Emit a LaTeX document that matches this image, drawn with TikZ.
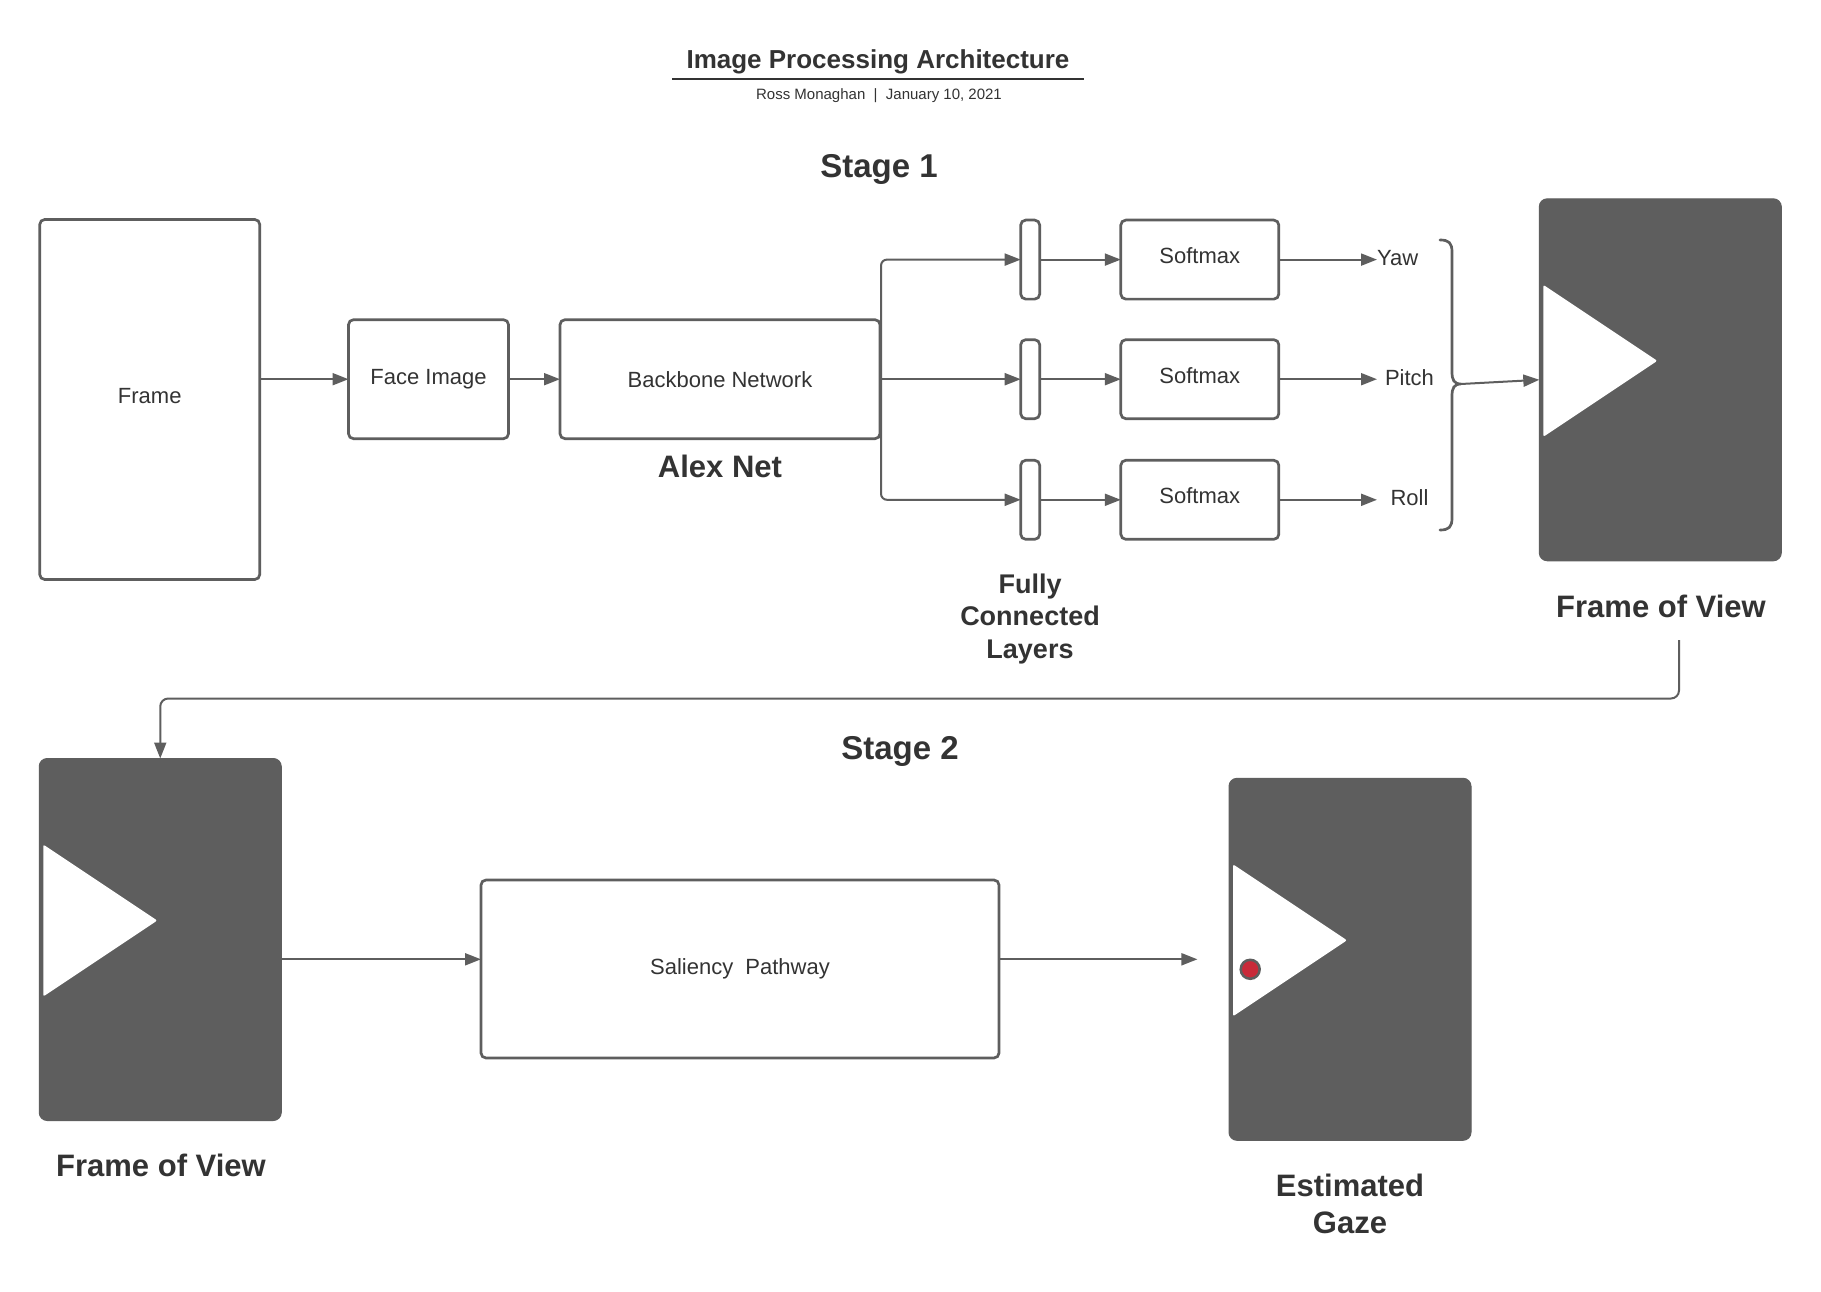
\documentclass[tikz,border=0pt]{standalone}
\usepackage{fontspec}
\setmainfont{Liberation Sans}
\usetikzlibrary{arrows.meta,calc}

\definecolor{linegray}{HTML}{5E5E5E}
\definecolor{inkgray}{HTML}{333333}
\definecolor{gazered}{HTML}{C92A39}

\tikzset{
  box/.style={draw=linegray, line width=2.7pt, rounded corners=5pt, fill=white,
    inner sep=0pt, outer sep=0pt, text=inkgray,
    font=\fontsize{22pt}{26pt}\selectfont},
  fcbar/.style={box, minimum width=19pt, minimum height=79pt, rounded corners=5pt},
  smbox/.style={box, minimum width=158pt, minimum height=79pt, text depth=8pt},
  darkframe/.style={fill=linegray, draw=linegray, line width=1pt, rounded corners=8pt,
    minimum width=242pt, minimum height=362pt, inner sep=0pt, outer sep=0pt},
  conn/.style={draw=linegray, line width=2pt, -{Triangle[length=16pt,width=12pt]}},
  heading/.style={text=inkgray, inner sep=0pt, font=\bfseries\fontsize{33pt}{40pt}\selectfont},
  caption/.style={text=inkgray, inner sep=0pt, align=center,
    font=\bfseries\fontsize{31pt}{36.6pt}\selectfont},
  outlbl/.style={text=inkgray, inner sep=0pt, outer sep=0pt,
    font=\fontsize{22pt}{26pt}\selectfont},
}

% white view cone inside a dark frame node
\newcommand{\viewcone}[1]{%
  \fill[white, rounded corners=2pt]
    ($(#1.north west)+(4,86)$) -- ($(#1.north west)+(118,162)$)
    -- ($(#1.north west)+(4,238)$) -- cycle;}

\begin{document}
\begin{tikzpicture}[x=1pt,y=-1pt]
\fill[white] (0,0) rectangle (1821,1292);
\useasboundingbox (0,0) rectangle (1821,1292);

% ---- header ----
\node[text=inkgray, inner sep=0pt, anchor=base,
      font=\bfseries\fontsize{26pt}{31pt}\selectfont] (title) at (878,69)
  {Image Processing Architecture};
\draw[draw=inkgray, line width=2pt]
  ($(title.base west)+(-14,10.5)$) -- ($(title.base east)+(14,10.5)$);
\node[text=inkgray, inner sep=0pt, anchor=base,
      font=\fontsize{15pt}{18pt}\selectfont] (byline) at (879,100)
  {Ross Monaghan\ \ |\ \ January 10, 2021};

% ---- stage 1 ----
\node[heading, anchor=base] (stage1) at (879,178) {Stage 1};

\node[box, minimum width=220pt, minimum height=360pt, text depth=8pt] (frame) at (149.75,399.5) {Frame};
\node[box, minimum width=160pt, minimum height=119pt] (face) at (428.5,379.2) {Face Image};
\node[box, minimum width=320pt, minimum height=119pt] (bb) at (720,379.2) {Backbone Network};
\node[caption, anchor=base] (alex) at (720,477) {Alex Net};

\node[fcbar] (fc1) at (1030.2,259.6) {};
\node[fcbar] (fc2) at (1030.2,379.2) {};
\node[fcbar] (fc3) at (1030.2,499.8) {};
\node[caption, font=\bfseries\fontsize{27pt}{32.2pt}\selectfont] (fclbl) at (1030,619)
  {Fully\\Connected\\Layers};

\node[smbox] (sm1) at (1199.8,259.6) {Softmax};
\node[smbox] (sm2) at (1199.8,379.2) {Softmax};
\node[smbox] (sm3) at (1199.8,499.8) {Softmax};

\node[outlbl, anchor=west] (yaw) at (1377,258) {Yaw};
\node[outlbl, anchor=west, minimum width=65pt] (pitch) at (1377,378) {Pitch};
\node[outlbl, anchor=west, minimum width=65pt] (roll) at (1377,498) {Roll};

\node[darkframe] (fov1) at (1660.3,379.8) {};
\viewcone{fov1}
\node[caption, anchor=base] (fov1lbl) at (1661,617) {Frame of View};

% connectors of stage 1
\draw[conn] (frame.east |- face.west) -- (face.west);
\draw[conn] (face.east) -- (bb.west);
\draw[conn, rounded corners=6pt] ($(bb.east)+(1,0)$) |- (fc1.west);
\draw[conn] (bb.east) -- (fc2.west);
\draw[conn, rounded corners=6pt] ($(bb.east)+(1,0)$) |- (fc3.west);
\draw[conn] (fc1.east) -- (sm1.west);
\draw[conn] (fc2.east) -- (sm2.west);
\draw[conn] (fc3.east) -- (sm3.west);
\draw[conn] (sm1.east) -- (sm1.east -| yaw.west);
\draw[conn] (sm2.east) -- (sm2.east -| pitch.west);
\draw[conn] (sm3.east) -- (sm3.east -| roll.west);

% brace gathering yaw, pitch and roll
\coordinate (bracetip) at (1461,384);
\draw[draw=linegray, line width=2.7pt, line cap=round]
  (1440,240) .. controls (1449,240) and (1452,243) .. (1452,252)
  -- (1452,372) .. controls (1452,380) and (1454,384) .. (bracetip)
  .. controls (1454,384) and (1452,388) .. (1452,396)
  -- (1452,518) .. controls (1452,527) and (1449,530) .. (1440,530);
\draw[conn] (bracetip) -- (fov1.west);

% ---- stage 2 ----
\node[heading, anchor=base] (stage2) at (900,759) {Stage 2};

\node[darkframe] (fov2) at (160.25,939.5) {};
\viewcone{fov2}
\node[caption, anchor=base] (fov2lbl) at (161,1176) {Frame of View};

\node[box, minimum width=518pt, minimum height=178pt] (sal) at (740,969)
  {Saliency\ \ Pathway};

\node[darkframe] (gaze) at (1350,959.3) {};
\viewcone{gaze}
\filldraw[fill=gazered, draw=linegray, line width=2.5pt]
  ($(gaze.north west)+(21.2,191)$) circle[radius=9.5pt];
\node[caption] (gazelbl) at (1350,1204) {Estimated\\Gaze};

% connectors of stage 2
\coordinate (fovout) at (1679,640);
\draw[conn, rounded corners=8pt] (fovout) |- ($(fov2.north)+(0,-60)$) -- (fov2.north);
\coordinate (lvl) at (0,959.3);
\coordinate (gazein) at (1197.4,959.3);
\draw[conn] (fov2.east |- lvl) -- (sal.west |- lvl);
\draw[conn] (sal.east |- lvl) -- (gazein);

\end{tikzpicture}
\end{document}
